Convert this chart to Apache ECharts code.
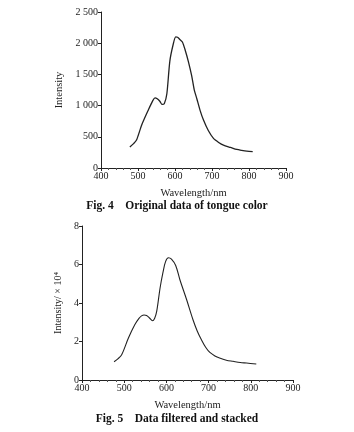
<!DOCTYPE html>
<html>
<head>
<meta charset="utf-8">
<script src="https://cdn.jsdelivr.net/npm/echarts@6/dist/echarts.min.js"></script>
<style>
  html, body { margin: 0; padding: 0; background: #fff; }
  #main { width: 354px; height: 432px; }
</style>
</head>
<body>
<div id="main"></div>
<script>
// Fig. 4 原始数据 (nm, intensity)
var wl4 = [478, 488, 496, 510, 528, 540, 546, 552, 559, 565, 571, 578, 586, 595, 602, 607, 613, 620, 628, 636, 645, 652, 659, 668, 677, 690, 704, 718, 731, 750, 767, 780, 794, 810];
var int4 = [335, 390, 447, 689, 931, 1080, 1125, 1110, 1070, 1020, 1030, 1190, 1710, 1979, 2100, 2095, 2060, 2020, 1880, 1710, 1480, 1253, 1110, 920, 769, 600, 474, 410, 366, 330, 297, 282, 269, 262];
// Fig. 5 滤波叠加后 (nm, intensity ×10^4)
var wl5 = [476, 485, 494, 510, 525, 535, 541, 547, 553, 560, 567, 572, 577, 585, 592, 598, 605, 612, 622, 632, 648, 663, 673, 683, 693, 703, 715, 726, 742, 758, 775, 790, 813];
var int5 = [0.95, 1.1, 1.31, 2.18, 2.87, 3.2, 3.33, 3.38, 3.35, 3.22, 3.08, 3.2, 3.56, 4.78, 5.6, 6.15, 6.35, 6.28, 5.95, 5.21, 4.17, 3.13, 2.55, 2.09, 1.7, 1.43, 1.25, 1.14, 1.03, 0.97, 0.91, 0.88, 0.83];

var xTicks = [400, 500, 600, 700, 800, 900];
var captions = ['Fig. 4    Original data of tongue color', 'Fig. 5    Data filtered and stacked'];

function pairs(xs, ys) {
  var out = [];
  for (var i = 0; i < xs.length; i++) out.push([xs[i], ys[i]]);
  return out;
}

var serif = 'Liberation Serif';
var ink = '#222';

function xAxisCfg(idx) {
  return {
    type: 'value', gridIndex: idx, min: xTicks[0], max: xTicks[xTicks.length - 1], interval: 100,
    name: 'Wavelength/nm', nameLocation: 'middle', nameGap: 20,
    nameTextStyle: { fontFamily: serif, fontSize: 10.5, color: ink },
    axisLine: { lineStyle: { color: ink, width: 1 } },
    axisTick: { show: true, length: 3, lineStyle: { color: ink } },
    minorTick: { show: true, splitNumber: 5, length: 2, lineStyle: { color: '#555' } },
    axisLabel: { fontFamily: serif, fontSize: 10, color: ink, margin: 3 },
    splitLine: { show: false }
  };
}

var myChart = echarts.init(document.getElementById('main'));
var option = {
  backgroundColor: '#fff',
  animation: false,
  grid: [
    { left: 101, right: 68, top: 12, height: 156 },
    { left: 82, right: 61, top: 226, height: 154 }
  ],
  xAxis: [xAxisCfg(0), xAxisCfg(1)],
  yAxis: [
    {
      type: 'value', gridIndex: 0, min: 0, max: 2500, interval: 500,
      name: 'Intensity', nameLocation: 'middle', nameGap: 34,
      nameTextStyle: { fontFamily: serif, fontSize: 10.5, color: ink },
      axisLine: { show: true, lineStyle: { color: ink } },
      axisTick: { show: true, length: 3, lineStyle: { color: ink } },
      axisLabel: {
        fontFamily: serif, fontSize: 10, color: ink, margin: 3,
        formatter: function (v) { return v >= 1000 ? String(v).replace(/(\d)(\d{3})$/, '$1 $2') : String(v); }
      },
      splitLine: { show: false }
    },
    {
      type: 'value', gridIndex: 1, min: 0, max: 8, interval: 2,
      name: 'Intensity/ × 10⁴', nameLocation: 'middle', nameGap: 17,
      nameTextStyle: { fontFamily: serif, fontSize: 10, color: ink },
      axisLine: { show: true, lineStyle: { color: ink } },
      axisTick: { show: true, length: 3, lineStyle: { color: ink } },
      axisLabel: { fontFamily: serif, fontSize: 10, color: ink, margin: 3 },
      splitLine: { show: false }
    }
  ],
  series: [
    {
      type: 'line', xAxisIndex: 0, yAxisIndex: 0, data: pairs(wl4, int4),
      smooth: 0.25, showSymbol: false, lineStyle: { color: ink, width: 1.3 }
    },
    {
      type: 'line', xAxisIndex: 1, yAxisIndex: 1, data: pairs(wl5, int5),
      smooth: 0.35, showSymbol: false, lineStyle: { color: ink, width: 1.1 }
    }
  ],
  graphic: [
    {
      type: 'text', left: 'center', top: 200,
      style: { text: captions[0], font: 'bold 11.5px "Liberation Serif"', fill: '#111' }
    },
    {
      type: 'text', left: 'center', top: 413,
      style: { text: captions[1], font: 'bold 11.5px "Liberation Serif"', fill: '#111' }
    }
  ]
};
myChart.setOption(option);
</script>
</body>
</html>
